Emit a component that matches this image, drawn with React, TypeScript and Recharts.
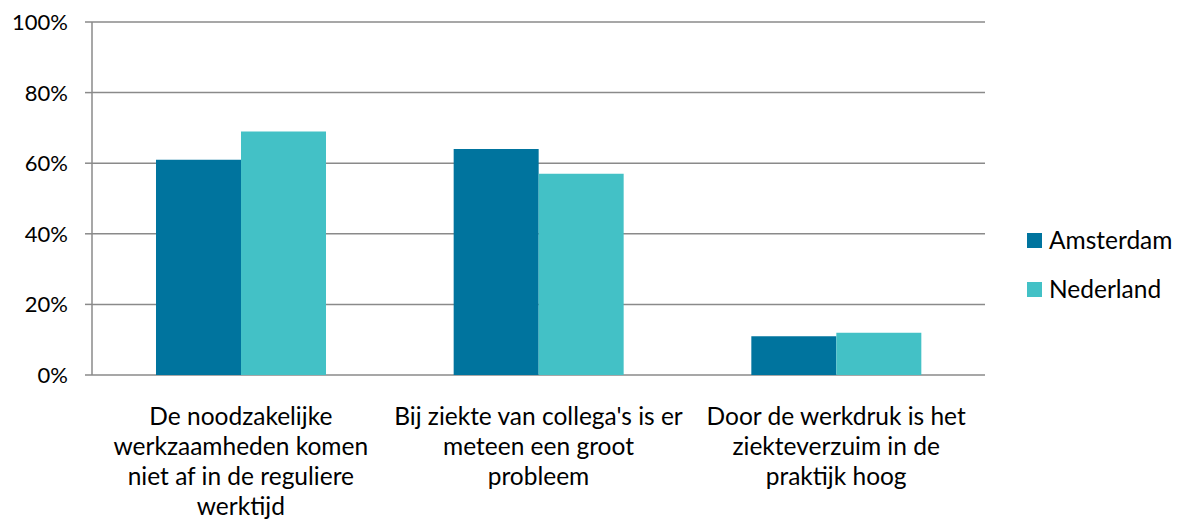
import React from "react";
import { BarChart, Bar, XAxis, YAxis, CartesianGrid, Legend } from "recharts";

const categories = [
  "De noodzakelijke\nwerkzaamheden komen\nniet af in de reguliere\nwerktijd",
  "Bij ziekte van collega's is er\nmeteen een groot\nprobleem",
  "Door de werkdruk is het\nziekteverzuim in de\npraktijk hoog",
];
const amsterdam = [61, 64, 11];
const nederland = [69, 57, 12];
const yTicks = [0, 20, 40, 60, 80, 100];
const boundaryTicks = [0, 1, 2, 3];

const seriesNames = { amsterdam: "Amsterdam", nederland: "Nederland" };
const colors = { amsterdam: "#00749E", nederland: "#43C1C6" };

const data = categories.map((c, i) => ({
  name: c,
  amsterdam: amsterdam[i],
  nederland: nederland[i],
}));

const FONT = "Lato, 'DejaVu Sans', sans-serif";
const GRID = "#8a8a8a";

const XTick = (props: any) => {
  const { x, y, payload } = props;
  const lines = String(payload.value).split("\n");
  return (
    <g>
      {lines.map((l: string, i: number) => (
        <text
          key={i}
          x={x}
          y={y + 42 + i * 30}
          textAnchor="middle"
          fontFamily={FONT}
          fontSize={24.5}
          fill="#000"
        >
          {l}
        </text>
      ))}
    </g>
  );
};

const YTick = (props: any) => {
  const { y, payload } = props;
  return (
    <text
      x={68}
      y={y + 8}
      textAnchor="end"
      fontFamily={FONT}
      fontSize={22}
      fill="#000"
    >
      {`${payload.value}%`}
    </text>
  );
};

const LegendContent = (props: any) => {
  const { payload } = props;
  return (
    <svg width={158} height={90} style={{ display: "block" }}>
      {(payload || []).map((p: any, i: number) => (
        <g key={i}>
          <rect x={7} y={8 + i * 49} width={15} height={15} fill={p.color} />
          <text
            x={29}
            y={24 + i * 49}
            fontFamily={FONT}
            fontSize={24.5}
            fill="#000"
          >
            {p.value}
          </text>
        </g>
      ))}
    </svg>
  );
};

export default function App() {
  return (
    <div style={{ position: "absolute", left: 0, top: 0, width: 1178, height: 519, background: "#fff" }}>
      <BarChart
        width={1178}
        height={519}
        data={data}
        margin={{ top: 22, right: 193, bottom: 0, left: 0 }}
        barCategoryGap="21.5%"
        barGap={0}
      >
        <CartesianGrid horizontal vertical={false} stroke={GRID} strokeWidth={1.5} />
        <XAxis
          xAxisId="bounds"
          type="number"
          domain={[0, 3]}
          ticks={boundaryTicks}
          tick={false}
          height={0}
          tickSize={7}
          stroke={GRID}
          strokeWidth={1.5}
          allowDataOverflow
        />
        <XAxis
          xAxisId="cat"
          dataKey="name"
          type="category"
          height={144}
          axisLine={false}
          tickLine={false}
          tick={<XTick />}
          interval={0}
        />
        <YAxis
          domain={[0, 100]}
          ticks={yTicks}
          width={92}
          tickSize={7}
          stroke={GRID}
          strokeWidth={1.5}
          tick={<YTick />}
          interval={0}
        />
        <Legend
          layout="vertical"
          align="center"
          verticalAlign="middle"
          content={<LegendContent />}
          wrapperStyle={{ position: "absolute", left: 1020, top: 225, width: 158, height: 90 }}
        />
        <Bar
          xAxisId="cat"
          dataKey="amsterdam"
          name={seriesNames.amsterdam}
          fill={colors.amsterdam}
          isAnimationActive={false}
        />
        <Bar
          xAxisId="cat"
          dataKey="nederland"
          name={seriesNames.nederland}
          fill={colors.nederland}
          isAnimationActive={false}
        />
      </BarChart>
    </div>
  );
}
